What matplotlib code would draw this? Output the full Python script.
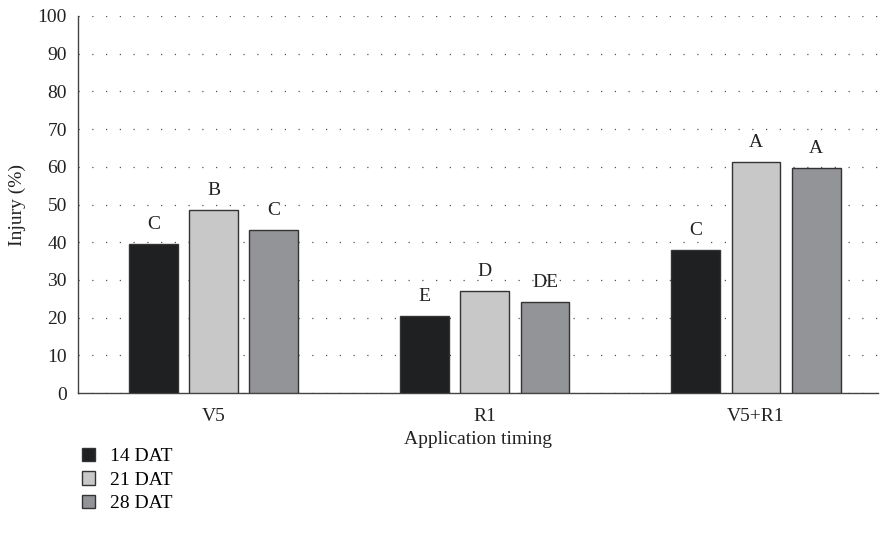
import numpy as np
import matplotlib
matplotlib.use("Agg")
import matplotlib.pyplot as plt
from matplotlib.patches import Patch

# data
timings = ["V5", "R1", "V5+R1"]
series = ["14 DAT", "21 DAT", "28 DAT"]
dat14 = [39.5, 20.4, 37.9]
dat21 = [48.5, 27.0, 61.3]
dat28 = [43.2, 24.1, 59.7]
letters14 = ["C", "E", "C"]
letters21 = ["B", "D", "A"]
letters28 = ["C", "DE", "A"]

colors = ["#1f2022", "#c8c8c8", "#939498"]
edge = "#333333"

plt.rcParams['font.family'] = ['Liberation Serif', 'DejaVu Serif']

fig = plt.figure(figsize=(8.81, 5.48), dpi=100)
ax = fig.add_axes([78/881, 1-393/548, 800/881, 377/548])

x = np.arange(len(timings))
w = 0.18
step = 0.222
values = [dat14, dat21, dat28]
letters = [letters14, letters21, letters28]
for i, (vals, labs) in enumerate(zip(values, letters)):
    pos = x + (i - 1) * step
    ax.bar(pos, vals, width=w, color=colors[i], edgecolor=edge, linewidth=1.0, zorder=3)
    for p, v, t in zip(pos, vals, labs):
        ax.text(p, v + 3, t, ha="center", va="bottom", fontsize=14, color="#222222")

ax.set_ylim(0, 100)
ax.set_xlim(-0.5, 2.45)
ax.set_yticks(np.arange(0, 101, 10))
ax.set_xticks(x)
ax.set_xticklabels(timings)
ax.tick_params(axis="y", length=0, labelsize=14, colors="#222222", pad=8)
ax.tick_params(axis="x", length=0, labelsize=14, colors="#222222", pad=11)
ax.yaxis.grid(True, linestyle=(0, (1, 10)), color="#555555", linewidth=0.9)
ax.set_axisbelow(True)
for s in ["top", "right"]:
    ax.spines[s].set_visible(False)
for s in ["left", "bottom"]:
    ax.spines[s].set_color("#444444")
    ax.spines[s].set_linewidth(1.0)
ax.set_ylabel("Injury (%)", fontsize=14, color="#222222", labelpad=8)
ax.set_xlabel("Application timing", fontsize=14, color="#222222", labelpad=4)

handles = [Patch(facecolor=c, edgecolor=edge, linewidth=1.0) for c in colors]
fig.legend(handles, series, loc="upper left", bbox_to_anchor=(74/881, 1-440/548),
           frameon=False, fontsize=14, handlelength=0.7, handleheight=0.7,
           handletextpad=0.75, labelspacing=0.3, borderaxespad=0)

fig.savefig("out.png", dpi=100)
